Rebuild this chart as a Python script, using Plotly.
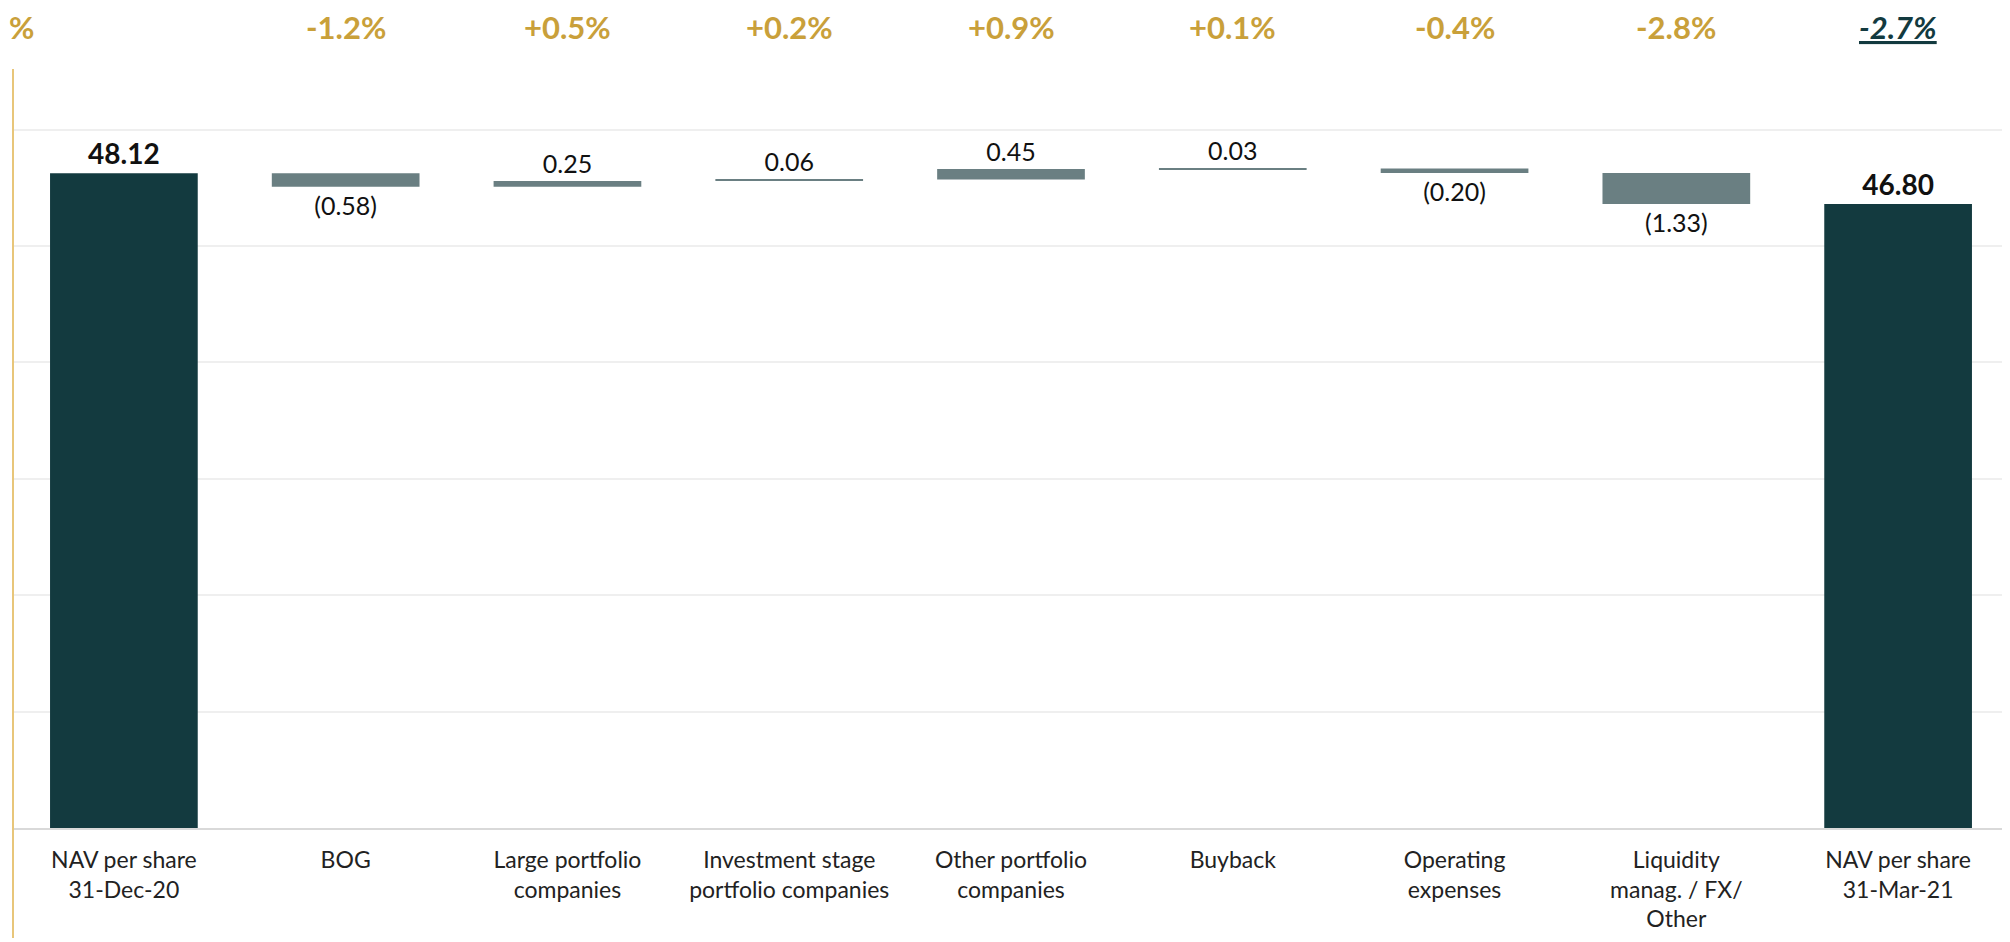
import plotly.graph_objects as go

categories = [
    "NAV per share<br>31-Dec-20",
    "BOG",
    "Large portfolio<br>companies",
    "Investment stage<br>portfolio companies",
    "Other portfolio<br>companies",
    "Buyback",
    "Operating<br>expenses",
    "Liquidity<br>manag. / FX/<br>Other",
    "NAV per share<br>31-Mar-21",
]
measures = ["absolute", "relative", "relative", "relative", "relative",
            "relative", "relative", "relative", "total"]
values = [48.12, -0.58, 0.25, 0.06, 0.45, 0.03, -0.20, -1.33, 46.80]
pct_labels = ["", "-1.2%", "+0.5%", "+0.2%", "+0.9%", "+0.1%", "-0.4%", "-2.8%", "-2.7%"]

DARK = "#133A3F"
GREY = "#6A7F82"
GOLD = "#C9A03A"
FONT = "Lato, 'Open Sans', sans-serif"

texts = []
sizes = []
for m, v in zip(measures, values):
    if m in ("absolute", "total"):
        texts.append(f"<b>{v:.2f}</b>")
        sizes.append(28)
    elif v < 0:
        texts.append(f"({abs(v):.2f})")
        sizes.append(25)
    else:
        texts.append(f"{v:.2f}")
        sizes.append(25)

fig = go.Figure()
fig.add_trace(go.Waterfall(
    x=categories,
    y=values,
    measure=measures,
    text=texts,
    texttemplate="%{text}",
    textposition="outside",
    cliponaxis=False,
    textfont=dict(family=FONT, size=sizes, color="#111111"),
    connector=dict(visible=False),
    increasing=dict(marker=dict(color=GREY, line=dict(width=0))),
    decreasing=dict(marker=dict(color=GREY, line=dict(width=0))),
    totals=dict(marker=dict(color=DARK, line=dict(width=0))),
    width=[0.666] * len(values),
))

# percentage change labels above the chart
for i, (c, p) in enumerate(zip(categories, pct_labels)):
    if not p:
        continue
    last = i == len(categories) - 1
    fig.add_annotation(
        x=c, y=1.055, xref="x", yref="paper",
        text=f"<i><u>{p}</u></i>" if last else p,
        showarrow=False, yanchor="middle", borderpad=0,
        font=dict(family=FONT, size=31, color=DARK if last else GOLD, weight="bold"),
    )
fig.add_annotation(
    x=-0.0025, y=1.055, xref="paper", yref="paper", text="%",
    showarrow=False, xanchor="left", yanchor="middle", borderpad=0,
    font=dict(family=FONT, size=31, color=GOLD, weight="bold"),
)

# gold vertical axis line extending below the plot
fig.add_shape(type="line", xref="paper", yref="paper",
              x0=0, x1=0, y0=-0.145, y1=1.0,
              line=dict(color="#E8C67A", width=2))

# the page body adds an 8px offset; figure size and margins compensate for it
fig.update_layout(
    width=2002, height=934,
    margin=dict(l=5, r=1, t=61, b=114, autoexpand=False),
    plot_bgcolor="white", paper_bgcolor="white",
    showlegend=False,
    font=dict(family=FONT, size=23, color="#222222"),
)
fig.update_xaxes(
    type="category", range=[-0.5, 8.5], automargin=False,
    showline=True, linecolor="#D9D9D9", linewidth=2,
    ticks="", showgrid=False,
    tickfont=dict(family=FONT, size=23, color="#222222"),
    ticklabelstandoff=10,
)
fig.update_yaxes(
    range=[20, 52.6], dtick=5, tick0=0, automargin=False,
    showgrid=True, gridcolor="#EFEFEF", gridwidth=1.5,
    showticklabels=False, zeroline=False, showline=False,
)

fig.write_html("out.html")
